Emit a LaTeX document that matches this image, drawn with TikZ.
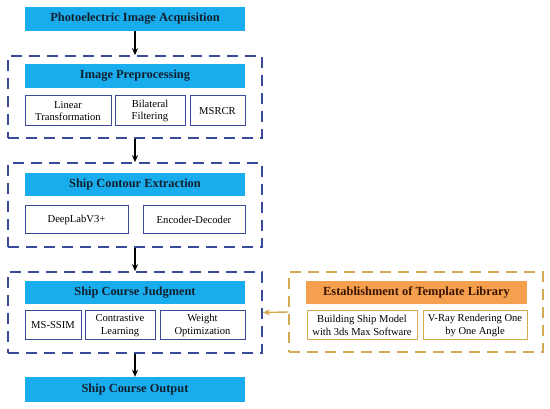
\documentclass[tikz,border=0pt]{standalone}
\usepackage{fontspec}
\setmainfont{Liberation Serif}
\usetikzlibrary{arrows.meta}
\definecolor{hblue}{HTML}{1AADEE}
\definecolor{navy}{HTML}{3A4A9A}
\definecolor{tan}{HTML}{D4AA50}
\definecolor{horange}{HTML}{F5A04E}
\definecolor{htext}{HTML}{10202E}
\definecolor{otext}{HTML}{3A1200}
\begin{document}
\begin{tikzpicture}[x=1pt,y=-1pt,
  hdr/.style={draw=none,fill=hblue,inner sep=0pt,font=\fontsize{12.4}{14}\selectfont\bfseries,text=htext},
  ohdr/.style={draw=none,fill=horange,inner sep=0pt,font=\fontsize{12.4}{14}\selectfont\bfseries,text=otext},
  sub/.style={draw=navy,line width=1pt,fill=white,inner sep=0pt,align=center,font=\fontsize{10.6}{12.5}\selectfont},
  osub/.style={draw=tan,line width=1pt,fill=white,inner sep=0pt,align=center,font=\fontsize{10.6}{12.5}\selectfont},
  grp/.style={draw=navy,line width=1.7pt,dash pattern=on 11pt off 7pt,inner sep=0pt},
  ogrp/.style={draw=tan,line width=1.7pt,dash pattern=on 11pt off 7pt,inner sep=0pt},
  arr/.style={-{Stealth[length=7pt,width=6pt]},line width=1.4pt,black},
  oarr/.style={-{Stealth[length=7pt,width=6pt]},line width=1.4pt,tan}]
\useasboundingbox (0,0) rectangle (550,409);
\fill[white] (0,0) rectangle (550,409);
% Top
\node[hdr,minimum width=220pt,minimum height=24pt] (acq) at (135,19) {Photoelectric Image Acquisition};
% Group 1
\node[grp,minimum width=254pt,minimum height=82pt] (g1) at (135,97) {};
\node[hdr,minimum width=220pt,minimum height=24pt] (pre) at (135,76) {Image Preprocessing};
\node[sub,minimum width=86pt,minimum height=30pt] (lin) at (68,111) {Linear\\Transformation};
\node[sub,minimum width=70pt,minimum height=30pt] (bil) at (150,111) {Bilateral\\Filtering};
\node[sub,minimum width=55pt,minimum height=30pt] (msr) at (217.5,111) {MSRCR};
% Group 2
\node[grp,minimum width=254pt,minimum height=84pt] (g2) at (135,205) {};
\node[hdr,minimum width=220pt,minimum height=23pt] (con) at (135,184.5) {Ship Contour Extraction};
\node[sub,minimum width=103pt,minimum height=28pt] (dl) at (76.5,220) {DeepLabV3+};
\node[sub,minimum width=102pt,minimum height=28pt] (ed) at (194,220) {Encoder-Decoder};
% Group 3
\node[grp,minimum width=254pt,minimum height=81pt] (g3) at (135,312.5) {};
\node[hdr,minimum width=220pt,minimum height=23pt] (jud) at (135,292.5) {Ship Course Judgment};
\node[sub,minimum width=56pt,minimum height=29pt] (ms) at (53,325.5) {MS-SSIM};
\node[sub,minimum width=70pt,minimum height=29pt] (ctr) at (120,325.5) {Contrastive\\Learning};
\node[sub,minimum width=85pt,minimum height=29pt] (wo) at (202.5,325.5) {Weight\\Optimization};
% Output
\node[hdr,minimum width=220pt,minimum height=25pt] (out) at (135,389.5) {Ship Course Output};
% Right group
\node[ogrp,minimum width=254pt,minimum height=80pt] (g4) at (416,312) {};
\node[ohdr,minimum width=221pt,minimum height=23pt] (tpl) at (416.5,292.5) {Establishment of Template Library};
\node[osub,minimum width=110pt,minimum height=29pt] (bsm) at (362,325.5) {Building Ship Model\\with 3ds Max Software};
\node[osub,minimum width=104pt,minimum height=29pt] (vr) at (475,325.5) {V-Ray Rendering One\\by One Angle};
% Arrows
\draw[arr] (acq.south) -- (g1.north);
\draw[arr] (g1.south) -- (g2.north);
\draw[arr] (g2.south) -- (g3.north);
\draw[arr] (g3.south) -- (out.north);
\draw[oarr] (g4.west) -- (g3.east);
\end{tikzpicture}
\end{document}
